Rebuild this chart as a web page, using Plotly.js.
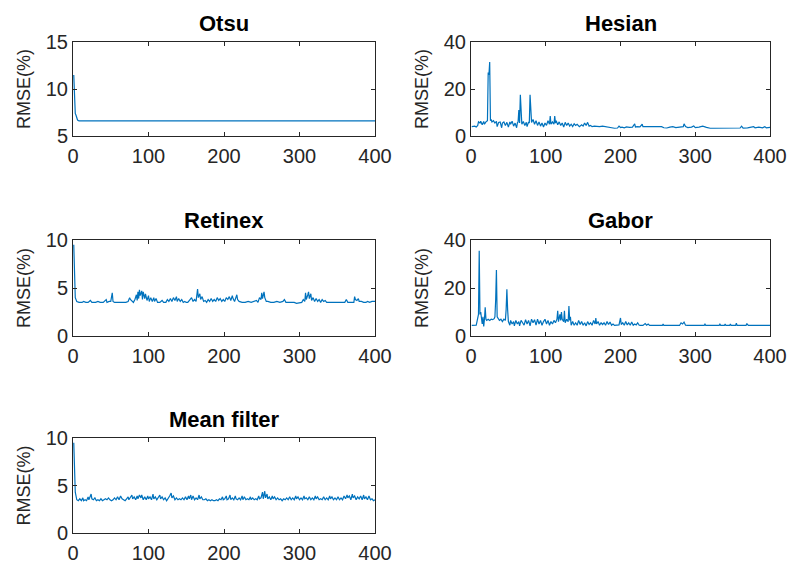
<!DOCTYPE html>
<html>
<head>
<meta charset="utf-8">
<script src="https://cdn.plot.ly/plotly-3.0.1.min.js"></script>
<style>html,body{margin:0;padding:0;background:#fff;}#chart{width:789px;height:567px;}</style>
</head>
<body>
<div id="chart"></div>
<script>
// ---- Data ----
const titles = ["Otsu", "Hesian", "Retinex", "Gabor", "Mean filter"];
const yAxisLabel = "RMSE(%)";
const xTicks = [0, 100, 200, 300, 400];

const otsuX = [1, 2, 3, 4, 5, 6, 7, 8, 10, 400];
const otsuY = [11.5, 9.0, 7.4, 7.2, 6.9, 6.7, 6.65, 6.6, 6.6, 6.6];

const hesianX = [1,3,5,7,9,10,12,13,15,17,18,20,22,23,24,25,26,27,28,30,32,34,35,37,39,41,42,44,46,48,50,52,53,55,57,59,61,62,63,64,65,66,67,68,70,72,74,75,77,78,79,80,81,83,85,87,89,91,93,95,97,99,101,103,105,106,107,109,111,112,113,114,116,118,120,122,124,126,128,130,132,134,136,138,140,142,145,148,150,152,154,156,158,160,162,165,168,172,176,180,185,188,192,196,198,200,202,205,208,212,216,219,220,222,226,229,230,232,236,240,245,250,255,258,262,266,270,274,280,284,285,287,290,295,298,300,305,310,315,320,325,330,335,340,345,350,355,360,362,364,370,375,378,380,385,390,393,395,400];
const hesianY = [4.0,4.0,4.2,3.8,4.5,6.0,5.5,6.3,4.8,6.2,5.0,6.0,6.5,27.0,26.0,31.5,6.5,7.0,6.0,6.5,5.5,6.2,4.0,5.8,6.0,3.5,5.5,6.0,4.5,5.8,3.8,6.0,5.0,6.3,4.2,5.5,3.5,5.5,6.0,11.0,5.5,17.5,6.0,5.0,6.2,4.5,5.8,4.0,6.0,5.5,17.5,6.5,5.8,7.0,5.0,6.5,4.5,6.0,4.2,5.5,3.8,5.5,4.5,6.5,5.0,8.5,5.0,6.0,5.0,8.5,5.5,6.5,4.8,6.0,4.5,5.5,3.8,5.8,4.5,5.5,4.2,5.0,4.0,5.2,4.5,5.0,4.0,4.8,4.2,5.5,4.5,5.8,4.2,4.5,4.0,4.2,4.0,4.0,4.2,4.0,3.5,3.3,3.3,3.4,4.2,3.6,3.8,3.5,3.9,3.7,3.8,5.2,3.8,4.0,3.9,5.0,4.0,4.0,4.0,3.9,4.0,3.8,4.0,3.5,3.4,3.8,4.0,3.6,3.9,4.0,5.2,4.0,3.6,3.8,4.3,3.6,3.8,4.2,3.7,3.3,3.3,3.3,3.3,3.3,3.3,3.3,3.3,3.4,4.2,3.4,3.5,3.7,4.0,3.5,3.8,3.5,4.0,3.5,3.7];

const retinexX = [1,2,3,5,8,12,14,17,20,23,25,30,33,36,40,44,45,48,50,52,53,55,60,65,70,73,75,76,78,80,82,84,85,86,87,88,89,91,92,93,95,96,98,100,101,103,105,107,108,110,112,115,118,120,123,125,127,129,131,133,135,137,138,140,142,144,146,148,150,152,155,157,159,161,163,165,166,168,169,171,173,175,177,179,181,183,185,187,189,191,193,195,197,199,201,203,205,207,209,211,212,214,217,218,220,224,228,232,236,240,243,245,247,249,250,251,253,254,256,258,262,266,270,274,278,280,282,286,290,293,296,300,303,305,307,308,309,311,312,313,315,316,318,320,322,324,326,328,330,332,334,336,340,345,350,355,360,362,364,368,372,373,374,376,378,379,382,385,388,390,393,396,400];
const retinexY = [9.5,5.2,4.0,3.6,3.5,3.5,3.6,3.5,3.5,3.7,3.5,3.5,3.6,3.5,3.5,3.8,3.5,3.6,3.6,4.5,3.6,3.5,3.5,3.5,3.5,3.6,4.0,3.8,3.6,3.5,3.8,4.3,3.7,4.6,3.9,4.8,4.2,4.7,3.8,4.6,3.9,4.4,3.7,4.2,3.6,4.0,3.6,4.0,3.6,3.9,3.5,3.5,3.7,3.5,3.5,3.8,3.6,3.9,3.6,4.0,3.7,4.1,3.6,3.9,3.6,3.8,3.5,3.6,3.5,3.5,3.8,4.0,3.6,3.8,3.6,4.9,4.0,4.4,3.8,4.1,3.6,3.7,3.5,3.8,3.6,3.9,3.6,3.8,3.6,4.0,3.7,3.9,3.6,3.8,3.6,4.0,3.8,4.1,3.7,4.2,3.9,3.6,4.3,3.8,3.6,3.5,3.5,3.6,3.5,3.6,3.7,3.5,4.0,3.8,4.5,3.9,4.6,4.0,3.6,3.6,3.5,3.5,3.6,3.5,3.6,3.8,3.5,3.5,3.5,3.5,3.4,3.5,3.5,3.8,3.6,4.5,3.8,4.3,4.6,3.9,4.4,3.7,4.0,3.6,3.9,3.6,3.8,3.5,3.8,3.6,3.7,3.5,3.5,3.5,3.5,3.5,3.5,3.8,3.5,3.5,3.5,4.1,3.8,3.7,3.9,3.6,3.6,3.5,3.5,3.6,3.5,3.6,3.6];

const gaborX = [1,3,5,7,8,9,10,11,12,13,14,15,16,17,18,19,20,21,23,25,27,29,31,32,33,34,35,36,38,40,42,44,46,47,48,49,50,52,53,55,57,58,60,62,64,65,67,69,71,73,75,77,79,81,83,85,87,89,91,93,95,97,99,101,103,105,107,109,111,113,115,116,117,119,120,121,122,124,125,126,128,130,131,132,133,134,136,138,140,142,144,146,148,150,152,154,156,158,160,162,164,166,167,168,170,172,174,176,178,180,182,184,186,188,190,192,195,198,200,201,203,205,207,209,211,213,215,217,219,221,223,225,227,230,233,235,237,239,245,250,256,257,258,265,270,279,281,283,285,287,290,300,312,313,314,325,332,333,334,339,340,341,346,347,348,354,355,356,365,368,369,370,371,380,390,400];
const gaborY = [4.4,4.4,4.4,4.5,6.0,7.5,9.0,35.5,9.0,10.0,6.5,5.0,8.0,4.0,7.0,12.0,7.0,6.5,7.0,6.5,7.0,6.8,7.2,8.0,15.0,27.5,8.0,7.5,6.5,7.0,6.0,7.0,6.5,11.0,19.5,11.0,6.0,4.5,6.5,5.0,6.0,4.2,6.5,5.0,6.0,4.2,6.5,5.5,4.5,6.8,5.0,6.5,4.2,7.0,5.5,6.8,4.5,7.0,5.0,6.5,4.5,6.0,7.0,5.0,6.5,4.5,6.0,5.0,6.5,5.5,7.0,10.5,6.0,9.0,6.5,10.0,7.0,6.0,10.5,5.5,7.0,6.0,12.5,6.5,8.0,4.5,6.0,4.5,5.5,4.5,6.5,4.8,6.0,4.5,5.5,4.2,6.0,4.8,5.5,4.5,6.5,5.0,7.5,5.0,6.0,4.5,5.5,4.8,5.5,4.5,6.0,4.8,5.8,4.5,5.0,4.4,4.4,4.6,7.5,4.8,5.5,4.5,6.0,4.6,5.5,4.5,5.8,4.5,5.0,4.6,5.5,4.5,4.4,4.4,5.2,4.5,5.0,4.4,4.4,4.4,4.4,5.0,4.4,4.4,4.4,4.4,5.5,5.0,5.8,4.5,4.4,4.4,4.4,4.9,4.4,4.4,4.4,4.9,4.4,4.4,5.0,4.4,4.4,5.0,4.4,4.4,5.3,4.4,4.4,4.4,5.2,4.5,4.4,4.4,4.4,4.4];

const meanX = [1,2,3,5,7,9,11,13,14,16,18,20,21,23,24,25,27,29,31,33,35,37,39,41,43,45,47,49,51,53,55,57,59,61,63,65,67,69,71,73,74,76,78,79,81,83,85,86,88,90,91,93,95,97,99,100,102,104,106,107,109,111,113,115,116,118,120,122,124,126,128,130,131,133,135,137,139,141,143,145,147,149,151,153,154,156,157,159,161,163,165,167,168,170,172,174,176,178,180,182,184,186,188,190,192,194,196,198,199,201,203,204,206,208,209,211,213,215,216,218,220,222,224,225,227,229,231,233,235,236,238,240,242,244,246,247,249,251,252,254,255,257,258,260,262,264,265,267,269,271,273,275,277,279,281,283,285,287,289,291,293,295,296,298,300,302,304,306,307,309,311,313,315,317,319,321,322,324,326,328,330,332,334,336,338,340,341,343,345,347,349,351,353,355,357,359,361,363,364,366,368,370,371,373,375,377,379,381,383,385,386,388,390,392,394,396,398,400];
const meanY = [9.5,5.2,4.3,3.5,3.4,3.6,3.4,3.7,3.4,3.5,3.4,3.8,3.5,3.9,4.1,3.6,3.5,3.7,3.4,3.5,3.4,3.6,3.4,3.5,3.6,3.5,3.7,3.5,3.4,3.5,3.7,3.5,3.8,3.5,3.9,3.6,3.5,3.4,3.6,3.8,3.5,3.7,4.0,3.6,3.8,3.5,3.9,3.6,4.0,3.7,4.0,3.5,3.8,3.5,3.9,3.6,3.8,3.5,4.1,3.6,3.8,3.5,3.7,4.0,3.6,3.8,3.5,3.7,3.4,3.6,3.9,4.2,3.7,3.9,3.5,3.7,3.5,3.6,3.5,3.7,3.5,3.8,3.5,3.9,3.6,4.0,3.5,3.9,3.5,3.7,3.5,4.0,3.6,3.8,3.5,3.5,3.6,3.4,3.5,3.4,3.5,3.4,3.4,3.5,3.4,3.6,3.5,3.8,3.5,3.6,3.9,3.5,3.6,4.0,3.5,3.7,3.5,3.9,3.6,3.5,3.7,3.5,3.9,3.5,3.8,3.5,3.6,3.5,3.8,3.5,3.7,3.5,3.6,3.5,3.9,3.6,3.7,4.3,3.6,4.4,3.7,4.1,3.6,3.8,3.5,3.9,3.6,3.8,3.5,3.7,3.5,3.6,3.4,3.6,3.5,3.7,3.5,3.8,3.5,3.7,3.5,3.9,3.6,3.8,3.5,3.7,3.5,3.9,3.6,3.7,3.5,3.8,3.5,3.7,3.5,3.9,3.6,3.8,3.5,3.6,3.5,3.8,3.5,3.7,3.5,3.9,3.6,3.8,3.5,3.7,3.5,3.8,3.5,3.7,3.5,3.9,3.6,4.0,3.7,3.9,3.5,4.1,3.7,3.9,3.5,3.8,3.6,3.9,3.5,4.0,3.6,3.8,3.5,3.9,3.5,3.6,3.4,3.5];

const yRanges = [[5, 15], [0, 40], [0, 10], [0, 40], [0, 10]];
const yTicks = [[5, 10, 15], [0, 20, 40], [0, 5, 10], [0, 20, 40], [0, 5, 10]];

// ---- Layout geometry (pixels in a 789x567 figure) ----
const W = 789, H = 567;
const boxes = [
  {l: 73, r: 375, t: 42, b: 136},
  {l: 471, r: 770, t: 42, b: 136},
  {l: 73, r: 375, t: 240, b: 336},
  {l: 471, r: 770, t: 240, b: 336},
  {l: 73, r: 375, t: 438, b: 533}
];

const seriesX = [otsuX, hesianX, retinexX, gaborX, meanX];
const seriesY = [otsuY, hesianY, retinexY, gaborY, meanY];

const lineColor = "#0072BD";
const axisColor = "#262626";
const fontFamily = "Liberation Sans, Arial, sans-serif";

const traces = [];
const layout = {
  width: W, height: H,
  margin: {l: 0, r: 0, t: 0, b: 0},
  paper_bgcolor: "#ffffff",
  plot_bgcolor: "#ffffff",
  showlegend: false,
  font: {family: fontFamily, color: axisColor},
  annotations: []
};

for (let i = 0; i < 5; i++) {
  const sfx = i === 0 ? "" : String(i + 1);
  const bx = boxes[i];
  traces.push({
    x: seriesX[i], y: seriesY[i],
    type: "scatter", mode: "lines",
    line: {color: lineColor, width: 1.2},
    xaxis: "x" + sfx, yaxis: "y" + sfx,
    hoverinfo: "skip"
  });
  layout["xaxis" + sfx] = {
    domain: [bx.l / W, bx.r / W],
    anchor: "y" + sfx,
    range: [0, 400],
    tickvals: xTicks,
    ticks: "inside", ticklen: 4, tickwidth: 1, tickcolor: axisColor,
    showline: true, linecolor: axisColor, linewidth: 1, mirror: "ticks",
    showgrid: false, zeroline: false,
    tickfont: {size: 20, color: axisColor, family: fontFamily},
    ticklabelstandoff: 2
  };
  layout["yaxis" + sfx] = {
    domain: [1 - bx.b / H, 1 - bx.t / H],
    anchor: "x" + sfx,
    range: yRanges[i],
    tickvals: yTicks[i],
    ticks: "inside", ticklen: 4, tickwidth: 1, tickcolor: axisColor,
    showline: true, linecolor: axisColor, linewidth: 1, mirror: "ticks",
    showgrid: false, zeroline: false,
    tickfont: {size: 20, color: axisColor, family: fontFamily},
    title: {text: yAxisLabel, font: {size: 18, color: axisColor, family: fontFamily}, standoff: 10}
  };
  layout.annotations.push({
    text: "<b>" + titles[i] + "</b>",
    xref: "paper", yref: "paper",
    x: (bx.l + bx.r) / 2 / W,
    y: 1 - (bx.t - 19) / H,
    xanchor: "center", yanchor: "middle",
    showarrow: false,
    font: {size: 22, color: "#000000", family: fontFamily}
  });
}

Plotly.newPlot("chart", traces, layout, {staticPlot: true, displayModeBar: false});
</script>
</body>
</html>
